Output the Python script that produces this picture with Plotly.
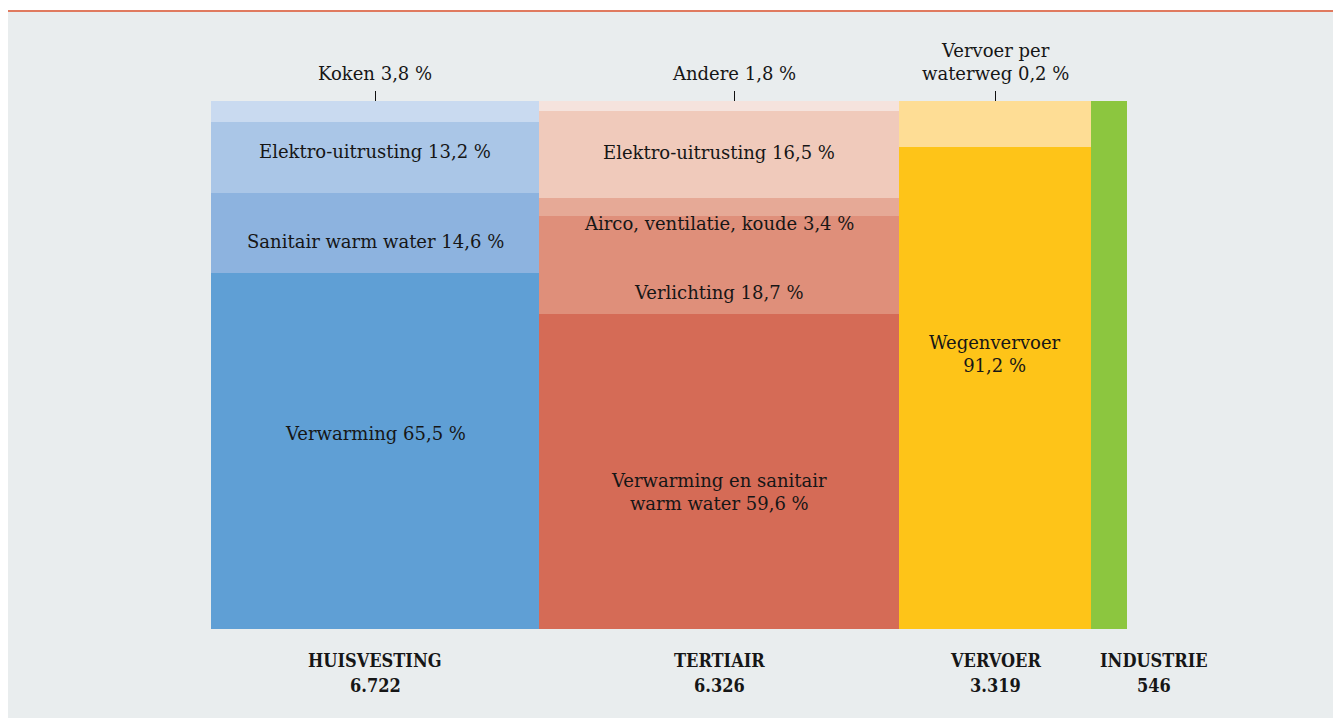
import plotly.graph_objects as go
import numpy as np

# ---------------- data ----------------
sectors = ["HUISVESTING", "TERTIAIR", "VERVOER", "INDUSTRIE"]
sector_totals = [6722, 6326, 3319, 546]

huisvesting_labels = ["Verwarming", "Sanitair warm water", "Elektro-uitrusting", "Koken"]
huisvesting_values = [65.5, 14.6, 13.2, 3.8]

tertiair_labels = ["Verwarming en sanitair<br>warm water", "Verlichting",
                   "Airco, ventilatie, koude", "Elektro-uitrusting", "Andere"]
tertiair_values = [59.6, 18.7, 3.4, 16.5, 1.8]

vervoer_labels = ["Wegenvervoer", "Overig vervoer"]
vervoer_values = [91.2, 8.8]
waterweg_label = "Vervoer per<br>waterweg"
waterweg_value = 0.2

industrie_labels = ["Industrie"]
industrie_values = [100.0]

# ---------------- style ----------------
col_widths = [328, 360, 192, 36]          # drawn column widths (px-like units)
colors = [
    ["#5f9fd5", "#8db3df", "#aac6e7", "#c9daf0"],
    ["#d56b56", "#df8f7a", "#e6a996", "#f0cabb", "#f5e3dd"],
    ["#fec418", "#fedd95"],
    ["#8cc63f"],
]
placement = [
    ["in", "in", "in", "top"],
    ["in", "in", "in", "in", "top"],
    ["in", "top"],
    [None],
]
in_yshift = [[17, -8, 6, 0], [-20, -28, -17, 2, 0], [34, 0], [0]]
top_xshift = [0, 15, 0, 0]
bottom_xshift = [0, 0, 0, 45]

FONT = "DejaVu Serif"
FONT_B = "DejaVu Serif Condensed"
TXT = "#161616"
BG = "#e9edee"
FS = 18


def fmt(v):
    return f"{v:.1f}".replace(".", ",") + " %"


def fmt_total(n):
    return f"{n:,}".replace(",", ".")


groups_labels = [huisvesting_labels, tertiair_labels, vervoer_labels, industrie_labels]
groups_values = [huisvesting_values, tertiair_values, vervoer_values, industrie_values]

edges = np.concatenate([[0], np.cumsum(col_widths)])
centers = (edges[:-1] + edges[1:]) / 2
total_w = edges[-1]

W, H = 1330, 710
L, R, T, B = 203, 211, 93, 89
pw, ph = W - L - R, H - T - B


def px(xp):
    return (xp - L) / pw


def py(yp):
    return (H - B - yp) / ph


fig = go.Figure()
annotations = []
shapes = []

for gi, (labs, vals) in enumerate(zip(groups_labels, groups_values)):
    s = sum(vals)
    cum = 0.0
    for si, (lab, v) in enumerate(zip(labs, vals)):
        fig.add_trace(go.Bar(
            x=[centers[gi]], y=[v], width=[col_widths[gi]],
            marker=dict(color=colors[gi][si], line=dict(width=0)),
            name=lab, hoverinfo="skip", showlegend=False,
        ))
        mid = (cum + v / 2) / s * 100
        cum += v
        pl = placement[gi][si]
        if pl == "in":
            if gi == 2 and si == 0:
                text = f"{lab}<br>{fmt(v)}"
            else:
                text = f"{lab} {fmt(v)}"
            annotations.append(dict(
                x=centers[gi], y=mid, xref="x", yref="y", text=text,
                showarrow=False, yshift=in_yshift[gi][si],
                font=dict(family=FONT, size=FS, color=TXT),
            ))
        elif pl == "top":
            if gi == 2:
                text = f"{waterweg_label} {fmt(waterweg_value)}"
            else:
                text = f"{lab} {fmt(v)}"
            xt = centers[gi] + top_xshift[gi]
            annotations.append(dict(
                x=xt, y=100, xref="x", yref="y", text=text,
                showarrow=False, yanchor="bottom", yshift=15,
                font=dict(family=FONT, size=FS, color=TXT),
            ))
            shapes.append(dict(
                type="line", xref="x", yref="paper", x0=xt + 0.5, x1=xt + 0.5,
                y0=1.0, y1=1.0 + 10 / ph, layer="above",
                line=dict(color="#111111", width=1),
            ))

for gi, name in enumerate(sectors):
    annotations.append(dict(
        x=centers[gi], y=0, xref="x", yref="y", text=f"<b>{name}</b>",
        showarrow=False, yanchor="middle", yshift=-31, xshift=bottom_xshift[gi],
        font=dict(family=FONT_B, size=18, color=TXT),
    ))
    annotations.append(dict(
        x=centers[gi], y=0, xref="x", yref="y", text=f"<b>{fmt_total(sector_totals[gi])}</b>",
        showarrow=False, yanchor="middle", yshift=-56, xshift=bottom_xshift[gi],
        font=dict(family=FONT_B, size=18, color=TXT),
    ))

# white strip and top rule
shapes.append(dict(type="rect", xref="paper", yref="paper", layer="below",
                   x0=px(-10), x1=px(W + 10), y0=py(2), y1=py(-10),
                   fillcolor="white", line=dict(width=0)))
shapes.append(dict(type="line", xref="paper", yref="paper",
                   x0=px(0), x1=px(W + 2), y0=py(3), y1=py(3),
                   line=dict(color="#e07a5f", width=2)))

fig.update_layout(
    width=W, height=H,
    margin=dict(l=L, r=R, t=T, b=B, pad=0),
    barmode="stack", barnorm="percent", bargap=0,
    paper_bgcolor=BG, plot_bgcolor="rgba(0,0,0,0)",
    xaxis=dict(range=[0, total_w], visible=False, fixedrange=True),
    yaxis=dict(range=[0, 100], visible=False, fixedrange=True),
    annotations=annotations, shapes=shapes,
    showlegend=False,
)

fig.write_html("out.html")
